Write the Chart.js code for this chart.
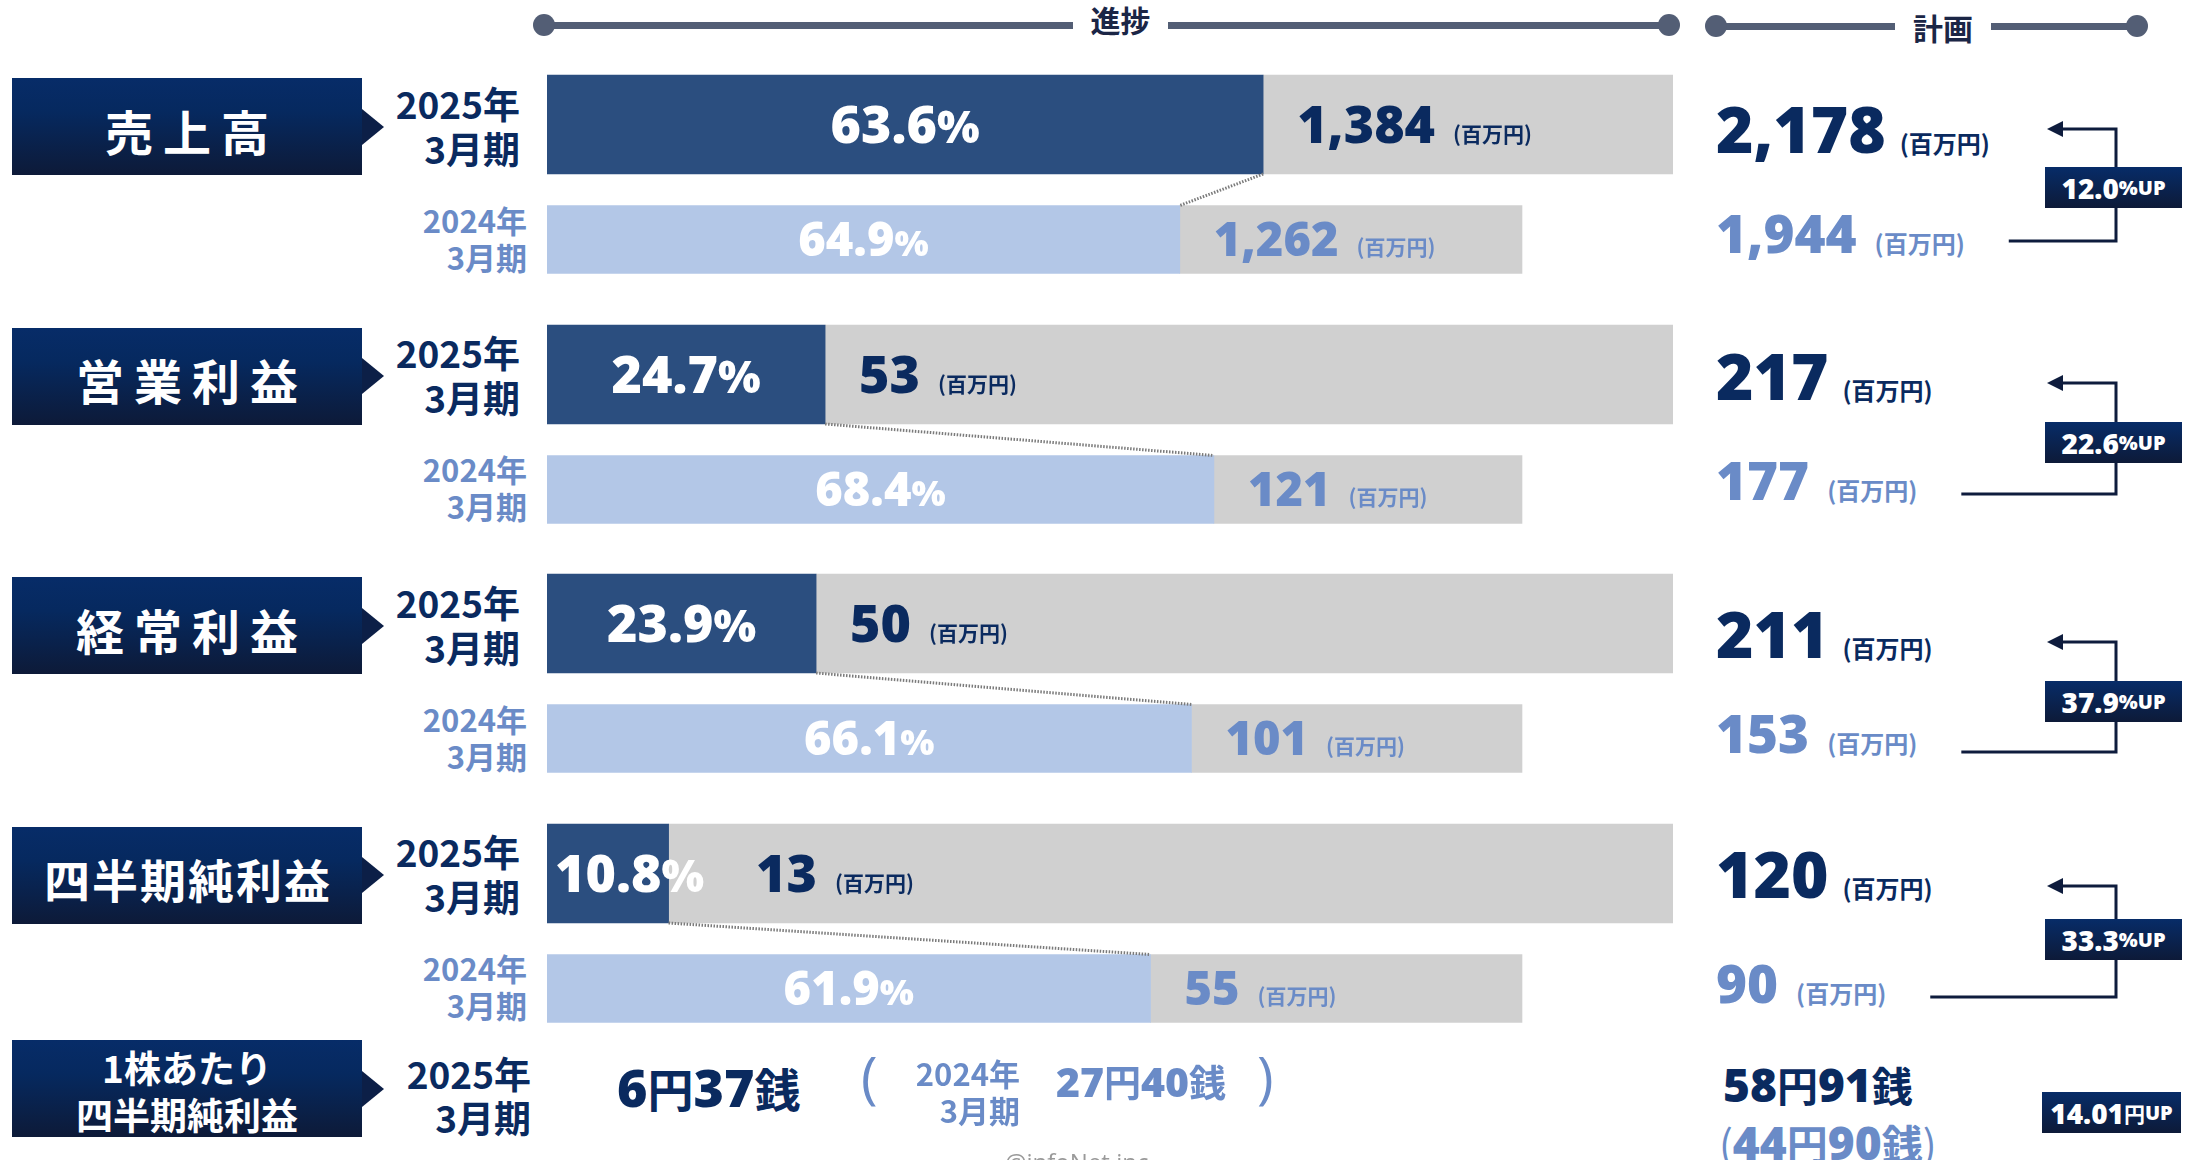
<!DOCTYPE html>
<html lang="ja">
<head>
<meta charset="utf-8">
<title>業績進捗</title>
<script src="https://cdn.jsdelivr.net/npm/chart.js@4.4.1/dist/chart.umd.min.js"></script>
<style>
  html, body { margin: 0; padding: 0; }
  body {
    width: 2191px; height: 1160px; position: relative; overflow: hidden; background: #fff;
    font-family: 'Noto Sans CJK JP', 'Noto Sans', sans-serif; color: #0a2a5f;
  }
  .abs { position: absolute; white-space: nowrap; }
  .num { font-family: 'Open Sans', 'Noto Sans CJK JP', sans-serif; font-weight: 800; }
  .cjk { font-family: 'Noto Sans CJK JP', sans-serif; font-weight: 700; }
  .bl { display: inline-block; width: 0; height: 0; vertical-align: baseline; }
  .rule-line { position: absolute; height: 7px; background: #535e75; }
  .rule-dot { position: absolute; width: 22px; height: 22px; border-radius: 50%; background: #535e75; }
  .rule-text { position: absolute; font-weight: 700; font-size: 30px; line-height: 30px; color: #1b2646; }
  .cat {
    position: absolute; left: 12px; width: 350px; height: 97px;
    background: linear-gradient(to bottom, #072c68 0%, #06295f 35%, #0d1a38 100%);
    color: #fff; font-weight: 700; display: flex; align-items: center; justify-content: center;
    text-align: center; box-sizing: border-box;
  }
  .cat::after {
    content: ''; position: absolute; left: 350px; top: 50%; margin-top: -18px;
    border-left: 22px solid #0c1f47; border-top: 18px solid transparent; border-bottom: 18px solid transparent;
  }
  .period { position: absolute; text-align: right; font-weight: 700; transform: translateY(-50%); }
  .up {
    position: absolute; left: 2045px; width: 137px; height: 41px;
    background: linear-gradient(to bottom, #072c68, #0d1a38);
    color: #fff; display: flex; align-items: center; justify-content: center; white-space: nowrap;
  }
  canvas { position: absolute; }
</style>
</head>
<body>
<svg id="lines" class="abs" width="2191" height="1160" style="left:0;top:0"></svg>
<script>
// 実績と計画
const categories = ['売上高', '営業利益', '経常利益', '四半期純利益'];
const periods = ['2025年3月期', '2024年3月期'];
const progress2025 = [63.6, 24.7, 23.9, 10.8];
const progress2024 = [64.9, 68.4, 66.1, 61.9];
const actual2025 = [1384, 53, 50, 13];
const actual2024 = [1262, 121, 101, 55];
const plan2025 = [2178, 217, 211, 120];
const plan2024 = [1944, 177, 153, 90];
const planGrowth = ['12.0', '22.6', '37.9', '33.3'];
const unit = '百万円';

// 1株あたり四半期純利益
const epsLabel = ['1株あたり', '四半期純利益'];
const eps2025 = '6円37銭';
const eps2024 = '27円40銭';
const epsPlan2025 = '58円91銭';
const epsPlan2024 = '44円90銭';
const epsGrowth = '14.01';

const NAVY = '#0a2a5f';
const LIGHT_TEXT = '#6a8bc7';
const DARK_BAR = '#2b4e7f';
const LIGHT_BAR = '#b3c7e7';
const REST_BAR = '#d0d0d0';

const BAR_X = 547;
const BAR_W = 1126;      // 2025 bar full length
const BAR_W_PREV = 975;  // 2024 bar full length

const blockTops = [67, 316.5, 566, 815.5];
const rightRows = [
  { plan: 153, prev: 253, arrowY: 129, bottomY: 241, boxTop: 167 },
  { plan: 400, prev: 500, arrowY: 383, bottomY: 494, boxTop: 422 },
  { plan: 658, prev: 753, arrowY: 642, bottomY: 752, boxTop: 681 },
  { plan: 898, prev: 1003, arrowY: 886, bottomY: 997, boxTop: 919 }
];

const svg = document.getElementById('lines');

function addEl(html) {
  document.body.insertAdjacentHTML('beforeend', html);
  return document.body.lastElementChild;
}

// move an element so that its text baseline sits at y
function setBaseline(el, y) {
  const mark = el.querySelector('.bl');
  const top = mark.getBoundingClientRect().top;
  el.style.top = (parseFloat(el.style.top || 0) + y - top) + 'px';
}

function fmt(n) {
  return n.toLocaleString('en-US');
}

// digits in the number font, kanji in the CJK font
function yen(text, numSize, cjkSize) {
  return text.replace(/(\d+)|([^\d]+)/g, (m, d, k) => d
    ? `<span class="num" style="font-size:${numSize}px">${d}</span>`
    : `<span class="cjk" style="font-size:${cjkSize}px">${k}</span>`);
}

function splitPeriod(p) {
  return p.replace('年', '年<br>');
}

// header rules
function rule(label, x1, x2, y, gapL, gapR, textY) {
  addEl(`<div class="rule-line" style="left:${x1}px;width:${gapL - x1}px;top:${y - 3.5}px"></div>`);
  addEl(`<div class="rule-line" style="left:${gapR}px;width:${x2 - gapR}px;top:${y - 3.5}px"></div>`);
  addEl(`<div class="rule-dot" style="left:${x1 - 11}px;top:${y - 11}px"></div>`);
  addEl(`<div class="rule-dot" style="left:${x2 - 11}px;top:${y - 11}px"></div>`);
  addEl(`<div class="rule-text" style="left:${gapL}px;width:${gapR - gapL}px;top:${textY - 15}px;text-align:center">${label}</div>`);
}
rule('進捗', 544, 1669, 25, 1073, 1168, 19);
rule('計画', 1716, 2137, 26, 1895, 1991, 27);

function barLabelPlugin(i) {
  return {
    id: 'barLabels' + i,
    afterDatasetsDraw(chart) {
      const ctx = chart.ctx;
      const rows = [
        { bar: chart.getDatasetMeta(0).data[0], pct: progress2025[i], val: actual2025[i],
          big: 52, pctSize: 45, color: NAVY },
        { bar: chart.getDatasetMeta(2).data[1], pct: progress2024[i], val: actual2024[i],
          big: 47, pctSize: 36, color: LIGHT_TEXT }
      ];
      const a = rows[0].bar;
      const b = rows[1].bar;

      ctx.save();
      ctx.strokeStyle = '#7a7a7a';
      ctx.lineWidth = 3;
      ctx.setLineDash([1.5, 1.5]);
      ctx.beginPath();
      ctx.moveTo(a.x, a.y + a.height / 2);
      ctx.lineTo(b.x, b.y - b.height / 2);
      ctx.stroke();
      ctx.setLineDash([]);

      rows.forEach((r) => {
        const el = r.bar;
        const base = el.base;
        const end = el.x;
        const yb = el.y + r.big * 0.36;
        const num = r.pct.toFixed(1);

        ctx.font = `800 ${r.big}px 'Open Sans'`;
        const w1 = ctx.measureText(num).width;
        ctx.font = `800 ${r.pctSize}px 'Open Sans'`;
        const w2 = ctx.measureText('%').width;
        const w = w1 + w2;
        const x0 = (end - base) > w + 30 ? (base + end) / 2 - w / 2 : base + 8;

        ctx.fillStyle = '#fff';
        ctx.textBaseline = 'alphabetic';
        ctx.font = `800 ${r.big}px 'Open Sans'`;
        ctx.fillText(num, x0, yb);
        ctx.font = `800 ${r.pctSize}px 'Open Sans'`;
        ctx.fillText('%', x0 + w1, yb);

        const vx = Math.max(end + 34, x0 + w + 52);
        ctx.fillStyle = r.color;
        ctx.font = `800 ${r.big}px 'Open Sans'`;
        const valText = fmt(r.val);
        ctx.fillText(valText, vx, yb);
        const vw = ctx.measureText(valText).width;
        ctx.font = `700 21px 'Noto Sans CJK JP'`;
        ctx.fillText(`(${unit})`, vx + vw + 18, yb - 1);
      });
      ctx.restore();
    }
  };
}

function drawBlock(i) {
  const top = blockTops[i];
  const long = categories[i].length > 4;

  addEl(`<div class="cat" style="top:${top + 11}px;font-size:${long ? 46 : 48}px;letter-spacing:${long ? 2 : 10}px;padding-left:${long ? 2 : 10}px;padding-top:6px">${categories[i]}</div>`);

  addEl(`<div class="period" style="right:${2191 - 520}px;top:${top + 58.5}px;font-size:37px;line-height:45px;color:${NAVY}">${splitPeriod(periods[0])}</div>`);
  addEl(`<div class="period" style="right:${2191 - 527}px;top:${top + 170.5}px;font-size:31px;line-height:37px;color:${LIGHT_TEXT}">${splitPeriod(periods[1])}</div>`);

  const canvas = document.createElement('canvas');
  canvas.width = BAR_W;
  canvas.height = 230;
  canvas.style.left = BAR_X + 'px';
  canvas.style.top = top + 'px';
  document.body.appendChild(canvas);

  new Chart(canvas.getContext('2d'), {
    type: 'bar',
    data: {
      labels: periods,
      datasets: [
        { label: '進捗', data: [progress2025[i], null], backgroundColor: DARK_BAR, xAxisID: 'x', barThickness: 99, stack: 'bars' },
        { label: '残り', data: [100 - progress2025[i], null], backgroundColor: REST_BAR, xAxisID: 'x', barThickness: 99, stack: 'bars' },
        { label: '進捗', data: [null, progress2024[i]], backgroundColor: LIGHT_BAR, xAxisID: 'x2', barThickness: 68, stack: 'bars' },
        { label: '残り', data: [null, 100 - progress2024[i]], backgroundColor: REST_BAR, xAxisID: 'x2', barThickness: 68, stack: 'bars' }
      ]
    },
    options: {
      indexAxis: 'y',
      responsive: false,
      animation: false,
      layout: { padding: 0 },
      plugins: {
        legend: { display: false },
        tooltip: { enabled: false }
      },
      scales: {
        y: { display: false, stacked: true },
        x: { display: false, stacked: true, min: 0, max: 100 },
        x2: { axis: 'x', type: 'linear', display: false, stacked: true, min: 0, max: 100 * BAR_W / BAR_W_PREV }
      }
    },
    plugins: [barLabelPlugin(i)]
  });
}

function drawPlan(i) {
  const r = rightRows[i];
  const plan = addEl(`<div class="abs num" style="left:1716px;top:0px;font-size:64px;line-height:1;color:${NAVY}">${fmt(plan2025[i])}<span class="cjk" style="font-size:24px;margin-left:14px">(${unit})</span><span class="bl"></span></div>`);
  setBaseline(plan, r.plan);

  const prev = addEl(`<div class="abs num" style="left:1716px;top:0px;font-size:53px;line-height:1;color:${LIGHT_TEXT}">${fmt(plan2024[i])}<span class="cjk unit" style="font-size:24px;margin-left:18px">(${unit})</span><span class="bl"></span></div>`);
  setBaseline(prev, r.prev);

  const unitRight = prev.querySelector('.unit').getBoundingClientRect().right;
  svg.insertAdjacentHTML('beforeend',
    `<path d="M${unitRight + 44} ${r.bottomY} H2116 V${r.arrowY} H2058" fill="none" stroke="#0e1c3d" stroke-width="3"/>` +
    `<polygon points="2047,${r.arrowY} 2063,${r.arrowY - 8} 2063,${r.arrowY + 8}" fill="#0e1c3d"/>`);

  addEl(`<div class="up" style="top:${r.boxTop}px"><span class="num" style="font-size:28px">${planGrowth[i]}</span><span class="num" style="font-size:20px">%UP</span></div>`);
}

function drawEps() {
  addEl(`<div class="cat" style="top:1040px;font-size:37px;line-height:47px;padding-top:4px">${epsLabel[0]}<br>${epsLabel[1]}</div>`);
  addEl(`<div class="period" style="right:${2191 - 531}px;top:1095px;font-size:37px;line-height:44px;color:${NAVY}">${splitPeriod(periods[0])}</div>`);

  const now = addEl(`<div class="abs" style="left:617px;top:0px;color:${NAVY};line-height:1">${yen(eps2025, 52, 46)}<span class="bl"></span></div>`);
  setBaseline(now, 1107);

  const open = addEl(`<div class="abs" style="left:861px;top:0px;font:400 56px 'Open Sans';color:${LIGHT_TEXT};line-height:1">(<span class="bl"></span></div>`);
  setBaseline(open, 1098);
  addEl(`<div class="period" style="right:${2191 - 1020}px;top:1091px;font-size:31px;line-height:37px;color:${LIGHT_TEXT}">${splitPeriod(periods[1])}</div>`);
  const prev = addEl(`<div class="abs" style="left:1056px;top:0px;color:${LIGHT_TEXT};line-height:1">${yen(eps2024, 41, 37)}<span class="bl"></span></div>`);
  setBaseline(prev, 1097);
  const close = addEl(`<div class="abs" style="left:1257px;top:0px;font:400 56px 'Open Sans';color:${LIGHT_TEXT};line-height:1">)<span class="bl"></span></div>`);
  setBaseline(close, 1098);

  const plan = addEl(`<div class="abs" style="left:1723px;top:0px;color:${NAVY};line-height:1">${yen(epsPlan2025, 46, 41)}<span class="bl"></span></div>`);
  setBaseline(plan, 1102);
  const planPrev = addEl(`<div class="abs" style="left:1719px;top:0px;color:${LIGHT_TEXT};line-height:1"><span class="cjk" style="font-size:41px;font-weight:400">(</span>${yen(epsPlan2024, 46, 41)}<span class="cjk" style="font-size:41px;font-weight:400">)</span><span class="bl"></span></div>`);
  setBaseline(planPrev, 1160);

  addEl(`<div class="up" style="left:2042px;width:139px;top:1092px"><span class="num" style="font-size:28px">${epsGrowth}</span><span class="cjk" style="font-size:21px">円</span><span class="num" style="font-size:20px">UP</span></div>`);

  addEl(`<div class="abs" style="left:1005px;top:1145px;font:400 24px 'Open Sans';color:#9a9a9a">@infoNet.inc</div>`);
}

document.fonts.ready.then(() => {
  categories.forEach((c, i) => {
    drawBlock(i);
    drawPlan(i);
  });
  drawEps();
});
</script>
</body>
</html>
